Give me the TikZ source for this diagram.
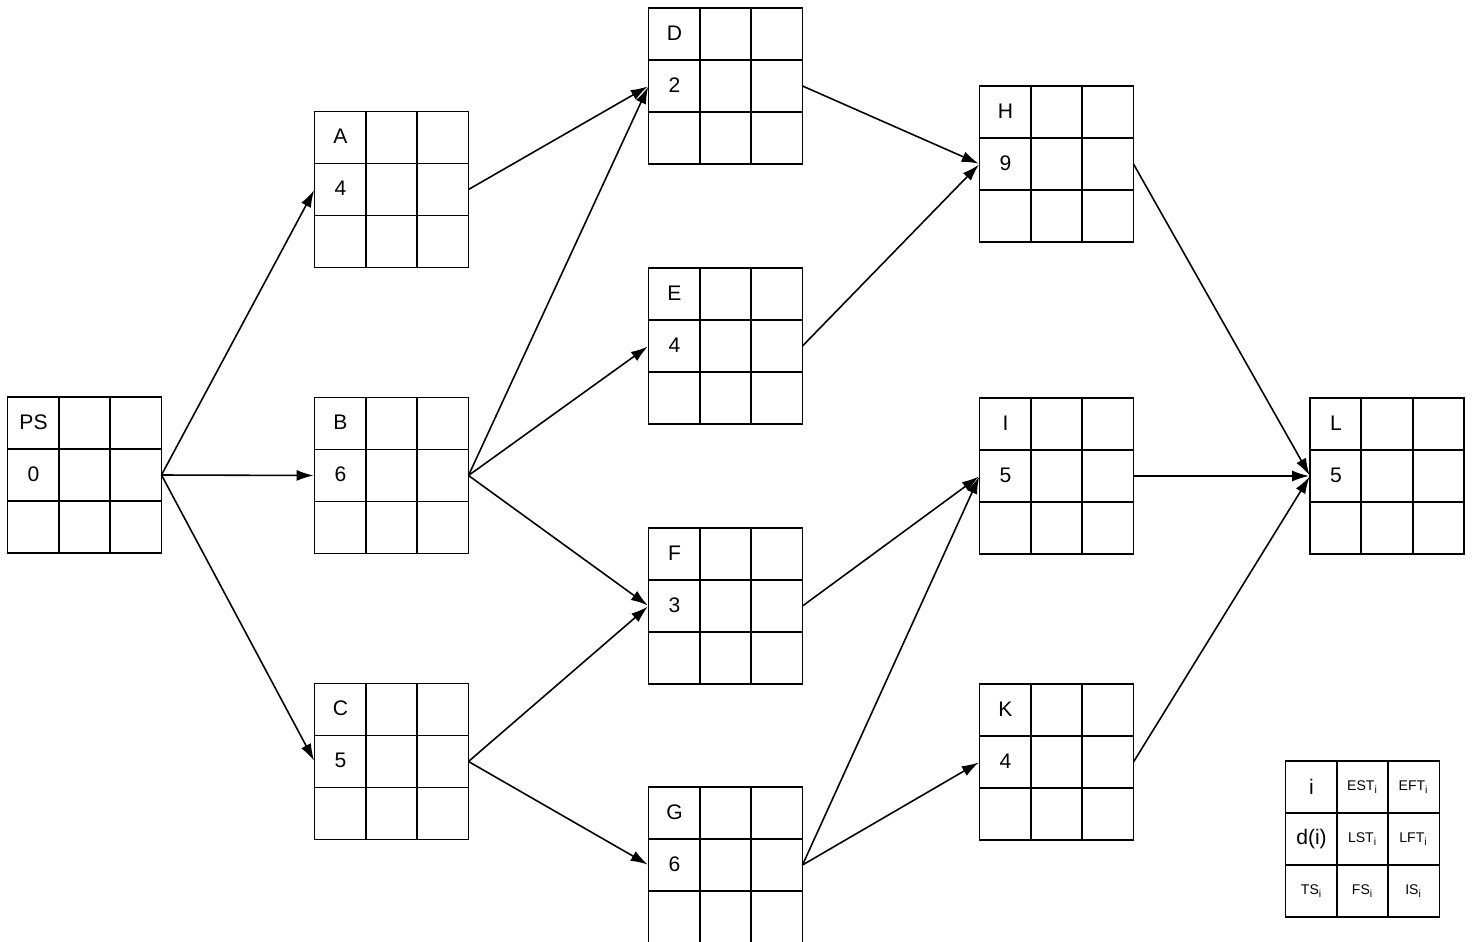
\documentclass[tikz,border=0pt]{standalone}
\usepackage{fontspec}
\setmainfont{Liberation Sans}
\usetikzlibrary{arrows.meta,calc}
\tikzset{
  gbox/.style={draw, line width=1pt, minimum width=3.08cm, minimum height=3.12cm, inner sep=0pt, outer sep=0pt},
  gline/.style={line width=1pt},
  lbl/.style={font=\fontsize{12}{14}\selectfont, inner sep=0pt},
  small/.style={font=\fontsize{8}{9}\selectfont, inner sep=0pt},
  mid/.style={font=\fontsize{12}{14}\selectfont, inner sep=0pt},
  conn/.style={line width=0.9pt, -{Latex[length=3.4mm,width=2.2mm]}, shorten >=0.5pt}
}
\newcommand{\gridbox}[5]{%
  \node[gbox] (#1) at (#2,#3) {};
  \draw[gline] ($(#1.north west)!1/3!(#1.north east)$) -- ($(#1.south west)!1/3!(#1.south east)$);
  \draw[gline] ($(#1.north west)!2/3!(#1.north east)$) -- ($(#1.south west)!2/3!(#1.south east)$);
  \draw[gline] ($(#1.north west)!1/3!(#1.south west)$) -- ($(#1.north east)!1/3!(#1.south east)$);
  \draw[gline] ($(#1.north west)!2/3!(#1.south west)$) -- ($(#1.north east)!2/3!(#1.south east)$);
  \node[lbl] (#1t) at ($(#1.north west)+(26,25)$) {#4};
  \node[lbl] (#1m) at ($(#1.west)+(26,-1)$) {#5};
}
\begin{document}
\begin{tikzpicture}[x=0.02cm,y=-0.02cm]
\useasboundingbox (0,0) rectangle (1473,942);
\gridbox{PS}{84.5}{475}{PS}{0}
\gridbox{A}{391.5}{189.5}{A}{4}
\gridbox{B}{391.5}{475.5}{B}{6}
\gridbox{C}{391.5}{761.5}{C}{5}
\gridbox{D}{725.5}{86}{D}{2}
\gridbox{E}{725.5}{346}{E}{4}
\gridbox{F}{725.5}{606}{F}{3}
\gridbox{G}{725.5}{865}{G}{6}
\gridbox{H}{1056.5}{164}{H}{9}
\gridbox{I}{1056.5}{476}{I}{5}
\gridbox{K}{1056.5}{762}{K}{4}
\gridbox{L}{1387}{476}{L}{5}
% legend
\node[gbox] (leg) at (1362.5,839) {};
\draw[gline] ($(leg.north west)!1/3!(leg.north east)$) -- ($(leg.south west)!1/3!(leg.south east)$);
\draw[gline] ($(leg.north west)!2/3!(leg.north east)$) -- ($(leg.south west)!2/3!(leg.south east)$);
\draw[gline] ($(leg.north west)!1/3!(leg.south west)$) -- ($(leg.north east)!1/3!(leg.south east)$);
\draw[gline] ($(leg.north west)!2/3!(leg.south west)$) -- ($(leg.north east)!2/3!(leg.south east)$);
\node[mid] (l11) at (1311.5,787) {i};
\node[small] (l12) at (1362.5,787) {EST\textsubscript{i}};
\node[small] (l13) at (1413.5,787) {EFT\textsubscript{i}};
\node[mid] (l21) at (1311.5,839) {d(i)};
\node[small] (l22) at (1362.5,839) {LST\textsubscript{i}};
\node[small] (l23) at (1413.5,839) {LFT\textsubscript{i}};
\node[small] (l31) at (1311.5,891) {TS\textsubscript{i}};
\node[small] (l32) at (1362.5,891) {FS\textsubscript{i}};
\node[small] (l33) at (1413.5,891) {IS\textsubscript{i}};
% connectors
\draw[conn] (PS.east) -- (A.west);
\draw[conn] (PS.east) -- (B.west);
\draw[conn] (PS.east) -- (C.west);
\draw[conn] (A.east) -- (D.west);
\draw[conn] (B.east) -- (D.west);
\draw[conn] (B.east) -- (E.west);
\draw[conn] (B.east) -- (F.west);
\draw[conn] (C.east) -- (F.west);
\draw[conn] (C.east) -- (G.west);
\draw[conn] (D.east) -- (H.west);
\draw[conn] (E.east) -- (H.west);
\draw[conn] (F.east) -- (I.west);
\draw[conn] (G.east) -- (I.west);
\draw[conn] (G.east) -- (K.west);
\draw[conn] (H.east) -- (L.west);
\draw[conn] (I.east) -- (L.west);
\draw[conn] (K.east) -- (L.west);
\end{tikzpicture}
\end{document}
